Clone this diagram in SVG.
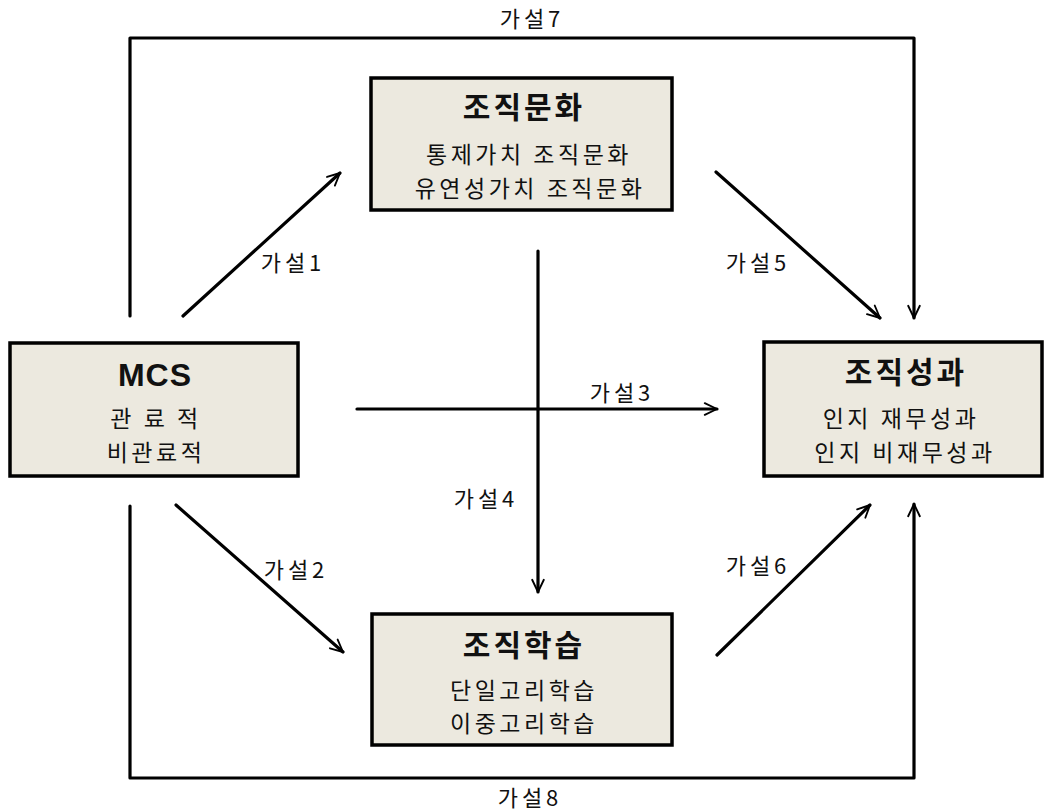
<svg xmlns="http://www.w3.org/2000/svg" width="1044" height="810" viewBox="0 0 1044 810">
<style>
.box{fill:#ECE9DF;stroke:#000;stroke-width:3.5}
.ln{fill:none;stroke:#000;stroke-width:3.2;stroke-linecap:round;stroke-linejoin:round}
.t{font-family:"Noto Sans CJK KR","Noto Sans",sans-serif;font-weight:bold;font-size:30px;fill:#111;text-anchor:middle;letter-spacing:3px}
.mcs{font-family:"Liberation Sans","Noto Sans CJK KR",sans-serif;font-weight:bold;font-size:32px;fill:#111;text-anchor:middle;letter-spacing:1px}
.s{font-family:"Noto Sans CJK KR","Noto Sans",sans-serif;font-size:23px;fill:#111;text-anchor:middle;letter-spacing:3.5px}
.l{font-family:"Noto Sans CJK KR","Noto Sans",sans-serif;font-size:22px;fill:#111;text-anchor:middle;letter-spacing:4px}
</style>
<defs>
<marker id="ah" viewBox="0 0 12 12" refX="11" refY="6" markerWidth="7" markerHeight="7" markerUnits="userSpaceOnUse" orient="auto" overflow="visible">
<path d="M-10,-4 L11,6 L-10,16" fill="none" stroke="#000" stroke-width="3.2" stroke-linecap="round" stroke-linejoin="round"/>
</marker>
</defs>
<g id="connectors">
<line class="ln" x1="183" y1="316" x2="340" y2="173" marker-end="url(#ah)"/>
<line class="ln" x1="176" y1="505" x2="343" y2="652" marker-end="url(#ah)"/>
<line class="ln" x1="716" y1="172" x2="880" y2="318" marker-end="url(#ah)"/>
<line class="ln" x1="717" y1="655" x2="870" y2="505" marker-end="url(#ah)"/>
<line class="ln" x1="357" y1="409" x2="717" y2="409" marker-end="url(#ah)"/>
<line class="ln" x1="538" y1="251" x2="538" y2="592" marker-end="url(#ah)"/>
<polyline class="ln" points="130,316 130,38 914,38 914,318" marker-end="url(#ah)"/>
<polyline class="ln" points="130,506 130,778 914,778 914,504" marker-end="url(#ah)"/>
<text class="l" x="293" y="271">가설1</text>
<text class="l" x="296" y="578">가설2</text>
<text class="l" x="622" y="401">가설3</text>
<text class="l" x="486" y="507">가설4</text>
<text class="l" x="758" y="271">가설5</text>
<text class="l" x="758" y="574">가설6</text>
<text class="l" x="532" y="27">가설7</text>
<text class="l" x="530" y="806">가설8</text>
</g>
<g id="mcs">
<rect class="box" x="10" y="343" width="288" height="133"/>
<text class="mcs" x="155" y="386">MCS</text>
<text class="s" x="156" y="427">관 료 적</text>
<text class="s" x="156" y="461">비관료적</text>
</g>
<g id="culture">
<rect class="box" x="371" y="78" width="301" height="132"/>
<text class="t" x="524" y="118">조직문화</text>
<text class="s" x="529" y="163">통제가치 조직문화</text>
<text class="s" x="530" y="197">유연성가치 조직문화</text>
</g>
<g id="performance">
<rect class="box" x="764" y="342" width="278" height="134"/>
<text class="t" x="906" y="383">조직성과</text>
<text class="s" x="901" y="427">인지 재무성과</text>
<text class="s" x="905" y="461">인지 비재무성과</text>
</g>
<g id="learning">
<rect class="box" x="372" y="614" width="300" height="131"/>
<text class="t" x="524" y="656">조직학습</text>
<text class="s" x="524" y="699">단일고리학습</text>
<text class="s" x="524" y="732">이중고리학습</text>
</g>
</svg>
